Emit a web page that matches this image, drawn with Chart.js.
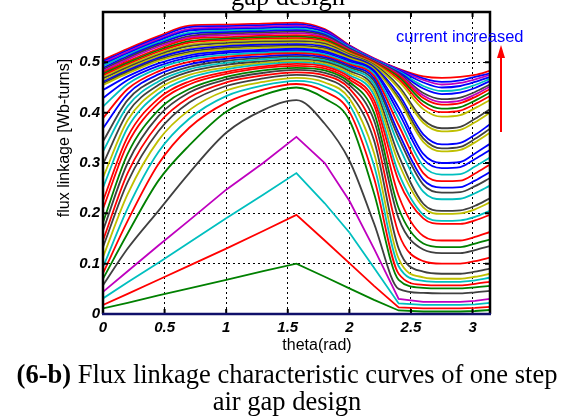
<!DOCTYPE html>
<html>
<head>
<meta charset="utf-8">
<script src="https://cdn.jsdelivr.net/npm/chart.js@4"></script>
<style>
html,body{margin:0;padding:0;background:#fff;}
canvas{display:block;}
</style>
</head>
<body>
<canvas id="c" width="561" height="416"></canvas>
<script>
// rotor angle (rad) at which each curve was read
const theta = [0, 0.2, 0.45, 0.7, 1.0, 1.3, 1.57, 1.8, 2.0, 2.2, 2.4, 2.6, 2.75, 2.9, 3.02, 3.1416];

// flux linkage curves (Wb-turns), lowest current first
const psi00 = [0,0,0,0,0,0,0,0,0,0,0,0,0,0,0,0];
const psi01 = [0.011,0.022,0.037,0.051,0.068,0.085,0.100,0.074,0.051,0.028,0.007,0.005,0.005,0.005,0.006,0.008];
const psi02 = [0.018,0.040,0.068,0.096,0.130,0.165,0.197,0.146,0.101,0.056,0.013,0.011,0.011,0.011,0.012,0.014];
const psi03 = [0.031,0.063,0.102,0.142,0.190,0.237,0.280,0.220,0.162,0.092,0.021,0.018,0.018,0.018,0.019,0.022];
const psi04 = [0.044,0.085,0.136,0.186,0.247,0.300,0.352,0.300,0.225,0.130,0.030,0.024,0.024,0.024,0.026,0.030];
const psi05 = [0.057,0.130,0.205,0.280,0.360,0.405,0.425,0.378,0.305,0.180,0.050,0.042,0.041,0.041,0.043,0.046];
const psi06 = [0.070,0.160,0.265,0.335,0.402,0.435,0.450,0.428,0.385,0.240,0.068,0.052,0.051,0.051,0.053,0.056];
const psi07 = [0.081,0.185,0.298,0.370,0.420,0.446,0.457,0.442,0.402,0.270,0.080,0.058,0.057,0.057,0.060,0.064];
const psi08 = [0.093,0.210,0.322,0.388,0.433,0.454,0.463,0.452,0.416,0.295,0.095,0.066,0.064,0.064,0.067,0.072];
const psi09 = [0.113,0.238,0.345,0.405,0.444,0.461,0.469,0.460,0.428,0.320,0.110,0.073,0.070,0.070,0.074,0.080];
const psi10 = [0.133,0.262,0.363,0.420,0.453,0.468,0.475,0.468,0.439,0.345,0.130,0.084,0.080,0.080,0.084,0.090];
const psi11 = [0.146,0.280,0.378,0.430,0.460,0.474,0.480,0.474,0.448,0.365,0.160,0.105,0.100,0.100,0.105,0.112];
const psi12 = [0.166,0.300,0.393,0.440,0.466,0.479,0.485,0.479,0.455,0.385,0.190,0.128,0.121,0.121,0.127,0.135];
const psi13 = [0.182,0.318,0.405,0.447,0.471,0.484,0.489,0.484,0.461,0.400,0.210,0.140,0.133,0.133,0.140,0.148];
const psi14 = [0.209,0.338,0.419,0.456,0.477,0.489,0.493,0.488,0.466,0.415,0.235,0.155,0.146,0.146,0.153,0.163];
const psi15 = [0.225,0.352,0.428,0.462,0.481,0.492,0.497,0.492,0.471,0.425,0.265,0.190,0.179,0.179,0.186,0.197];
const psi16 = [0.251,0.370,0.438,0.469,0.486,0.496,0.500,0.495,0.475,0.435,0.280,0.197,0.185,0.186,0.193,0.205];
const psi17 = [0.271,0.385,0.447,0.475,0.490,0.499,0.503,0.498,0.479,0.443,0.300,0.212,0.199,0.200,0.208,0.222];
const psi18 = [0.298,0.400,0.455,0.481,0.495,0.502,0.506,0.501,0.483,0.450,0.315,0.219,0.205,0.206,0.215,0.230];
const psi19 = [0.323,0.413,0.462,0.486,0.499,0.506,0.509,0.504,0.487,0.457,0.335,0.243,0.228,0.229,0.240,0.255];
const psi20 = [0.343,0.425,0.469,0.491,0.503,0.509,0.512,0.507,0.490,0.463,0.350,0.257,0.241,0.242,0.254,0.270];
const psi21 = [0.369,0.437,0.476,0.496,0.507,0.512,0.515,0.510,0.493,0.468,0.360,0.267,0.251,0.252,0.265,0.282];
const psi22 = [0.389,0.447,0.482,0.501,0.511,0.516,0.518,0.513,0.496,0.473,0.375,0.280,0.264,0.265,0.279,0.297];
const psi23 = [0.412,0.457,0.488,0.506,0.515,0.519,0.521,0.516,0.499,0.477,0.388,0.294,0.277,0.278,0.293,0.311];
const psi24 = [0.429,0.465,0.493,0.510,0.519,0.522,0.524,0.519,0.502,0.481,0.400,0.308,0.290,0.292,0.308,0.326];
const psi25 = [0.445,0.472,0.498,0.514,0.522,0.525,0.527,0.522,0.505,0.484,0.410,0.318,0.300,0.302,0.319,0.338];
const psi26 = [0.455,0.478,0.503,0.518,0.526,0.529,0.530,0.525,0.508,0.487,0.425,0.342,0.323,0.326,0.341,0.360];
const psi27 = [0.458,0.481,0.506,0.521,0.529,0.532,0.533,0.528,0.510,0.489,0.430,0.349,0.329,0.332,0.348,0.368];
const psi28 = [0.461,0.484,0.509,0.525,0.532,0.535,0.536,0.531,0.512,0.491,0.437,0.357,0.337,0.340,0.356,0.377];
const psi29 = [0.464,0.487,0.512,0.528,0.535,0.538,0.539,0.534,0.514,0.493,0.448,0.380,0.363,0.366,0.381,0.400];
const psi30 = [0.468,0.490,0.515,0.532,0.538,0.541,0.542,0.537,0.516,0.495,0.453,0.386,0.369,0.372,0.388,0.407];
const psi31 = [0.471,0.493,0.518,0.535,0.541,0.544,0.545,0.540,0.518,0.497,0.462,0.407,0.392,0.395,0.409,0.425];
const psi32 = [0.474,0.496,0.521,0.539,0.544,0.547,0.548,0.542,0.520,0.499,0.467,0.415,0.401,0.404,0.417,0.433];
const psi33 = [0.477,0.499,0.524,0.542,0.547,0.550,0.551,0.545,0.522,0.500,0.471,0.422,0.408,0.411,0.424,0.440];
const psi34 = [0.480,0.502,0.527,0.546,0.550,0.553,0.554,0.548,0.524,0.501,0.474,0.429,0.416,0.419,0.431,0.447];
const psi35 = [0.483,0.506,0.531,0.549,0.554,0.556,0.558,0.550,0.525,0.502,0.476,0.434,0.421,0.424,0.436,0.452];
const psi36 = [0.486,0.509,0.534,0.552,0.557,0.559,0.561,0.553,0.527,0.503,0.478,0.439,0.427,0.430,0.441,0.456];
const psi37 = [0.489,0.512,0.537,0.556,0.560,0.562,0.564,0.555,0.528,0.504,0.480,0.448,0.437,0.440,0.449,0.463];
const psi38 = [0.493,0.515,0.540,0.559,0.563,0.565,0.567,0.557,0.530,0.505,0.482,0.453,0.443,0.446,0.455,0.467];
const psi39 = [0.496,0.518,0.543,0.563,0.566,0.568,0.570,0.560,0.531,0.506,0.484,0.460,0.450,0.453,0.461,0.471];
const psi40 = [0.499,0.521,0.546,0.566,0.569,0.571,0.573,0.562,0.532,0.507,0.485,0.465,0.456,0.459,0.466,0.475];
const psi41 = [0.502,0.524,0.549,0.570,0.572,0.574,0.576,0.564,0.533,0.507,0.486,0.468,0.461,0.464,0.471,0.478];
const psi42 = [0.505,0.527,0.552,0.573,0.575,0.577,0.579,0.566,0.534,0.508,0.487,0.472,0.469,0.471,0.475,0.483];

const curves = [psi00,psi01,psi02,psi03,psi04,psi05,psi06,psi07,psi08,psi09,psi10,
  psi11,psi12,psi13,psi14,psi15,psi16,psi17,psi18,psi19,psi20,psi21,psi22,psi23,psi24,
  psi25,psi26,psi27,psi28,psi29,psi30,psi31,psi32,psi33,psi34,psi35,psi36,psi37,psi38,
  psi39,psi40,psi41,psi42];

// MATLAB-style colour letters, one per curve
const curveColors = ['b','g','r','c','m','k','g','r','c','y','k','r','k','g','r','r','c','y','k','c','k',
  'b','r','c','b','b','y','k','b','y','k','y','r','g','r','m','k','b','c','b','m','b','r'];
const PALETTE = {b:'#0000ff', g:'#008000', r:'#ff0000', c:'#00bfbf', m:'#bf00bf', y:'#bfbf00', k:'#404040'};

const xTicks = [0, 0.5, 1, 1.5, 2, 2.5, 3];
const yTicks = [0, 0.1, 0.2, 0.3, 0.4, 0.5];

const SANS = '"Liberation Sans", Arial, sans-serif';
const SERIF = '"Liberation Serif", "Times New Roman", serif';

const datasets = curves.map((vals, i) => ({
  data: vals.map((v, j) => ({x: theta[j], y: v})),
  borderColor: PALETTE[curveColors[i]],
  borderWidth: 1.8,
  pointRadius: 0,
  fill: false,
  tension: 0,
  cubicInterpolationMode: (i >= 5) ? 'monotone' : 'default'
}));

const decor = {
  id: 'decor',
  beforeDraw(chart) {
    const ctx = chart.ctx;
    ctx.save();
    ctx.fillStyle = '#ffffff';
    ctx.fillRect(0, 0, chart.width, chart.height);
    ctx.restore();
  },
  afterDatasetsDraw(chart) {
    const ctx = chart.ctx;
    const a = chart.chartArea;
    const xs = chart.scales.x, ys = chart.scales.y;
    ctx.save();
    ctx.strokeStyle = '#000';
    ctx.lineWidth = 2;
    ctx.beginPath();
    xTicks.forEach(v => {
      const px = xs.getPixelForValue(v);
      ctx.moveTo(px, a.bottom); ctx.lineTo(px, a.bottom - 5);
      ctx.moveTo(px, a.top); ctx.lineTo(px, a.top + 5);
    });
    yTicks.forEach(v => {
      const py = ys.getPixelForValue(v);
      ctx.moveTo(a.left, py); ctx.lineTo(a.left + 5, py);
      ctx.moveTo(a.right, py); ctx.lineTo(a.right - 5, py);
    });
    ctx.stroke();
    ctx.lineWidth = 2.5;
    ctx.beginPath();
    ctx.moveTo(a.left, a.bottom); ctx.lineTo(a.left, a.top);
    ctx.lineTo(a.right, a.top); ctx.lineTo(a.right, a.bottom);
    ctx.stroke();
    ctx.strokeStyle = '#10106a';
    ctx.beginPath();
    ctx.moveTo(a.left - 1, a.bottom); ctx.lineTo(a.right + 1, a.bottom);
    ctx.stroke();
    ctx.restore();
  },
  afterDraw(chart) {
    const ctx = chart.ctx;
    ctx.save();
    ctx.fillStyle = '#000';
    ctx.font = '16px ' + SANS;
    ctx.textAlign = 'center';
    ctx.textBaseline = 'middle';
    ctx.save();
    ctx.translate(65, 138);
    ctx.rotate(-Math.PI / 2);
    ctx.fillText('flux linkage [Wb-turns]', 0, 0);
    ctx.restore();
    ctx.fillText('theta(rad)', 317, 346);
    ctx.fillStyle = '#0000ff';
    ctx.font = '16.5px ' + SANS;
    ctx.textAlign = 'left';
    ctx.textBaseline = 'alphabetic';
    ctx.fillText('current increased', 396, 42);
    ctx.strokeStyle = '#ff0000';
    ctx.fillStyle = '#ff0000';
    ctx.lineWidth = 2;
    ctx.beginPath();
    ctx.moveTo(501, 132); ctx.lineTo(501, 56);
    ctx.stroke();
    ctx.beginPath();
    ctx.moveTo(501, 45); ctx.lineTo(497, 58); ctx.lineTo(505, 58); ctx.closePath();
    ctx.fill();
    ctx.fillStyle = '#000';
    ctx.textAlign = 'center';
    ctx.font = '26.5px ' + SERIF;
    ctx.fillText('gap design', 288, 5);
    const boldPart = '(6-b)';
    const restPart = ' Flux linkage characteristic curves of one step';
    ctx.font = 'bold 26.5px ' + SERIF;
    const w1 = ctx.measureText(boldPart).width;
    ctx.font = '26.5px ' + SERIF;
    const w2 = ctx.measureText(restPart).width;
    const start = 287 - (w1 + w2) / 2;
    ctx.textAlign = 'left';
    ctx.font = 'bold 26.5px ' + SERIF;
    ctx.fillText(boldPart, start, 383);
    ctx.font = '26.5px ' + SERIF;
    ctx.fillText(restPart, start + w1, 383);
    ctx.textAlign = 'center';
    ctx.fillText('air gap design', 287, 410);
    ctx.restore();
  }
};

const tickFont = {family: SANS, size: 15, weight: 'bold', style: 'italic'};

new Chart(document.getElementById('c'), {
  type: 'line',
  data: {datasets},
  options: {
    responsive: false,
    devicePixelRatio: 1,
    animation: false,
    layout: {padding: {left: 0, top: 10, right: 71, bottom: 0}},
    plugins: {legend: {display: false}, tooltip: {enabled: false}, title: {display: false}},
    elements: {point: {radius: 0}},
    scales: {
      x: {
        type: 'linear', min: 0, max: Math.PI,
        afterBuildTicks: s => { s.ticks = xTicks.map(v => ({value: v})); },
        afterFit: s => { s.height = 102; },
        ticks: {font: tickFont, color: '#000', padding: 5, maxRotation: 0, autoSkip: false, callback: v => String(v)},
        grid: {color: '#000', lineWidth: 1, drawTicks: false},
        border: {display: false, dash: [2, 3]}
      },
      y: {
        type: 'linear', min: 0, max: 0.6,
        afterBuildTicks: s => { s.ticks = yTicks.map(v => ({value: v})); },
        afterFit: s => { s.width = 103; },
        ticks: {font: tickFont, color: '#000', padding: 3, callback: v => String(v)},
        grid: {color: '#000', lineWidth: 1, drawTicks: false},
        border: {display: false, dash: [2, 3]}
      }
    }
  },
  plugins: [decor]
});
</script>
</body>
</html>
